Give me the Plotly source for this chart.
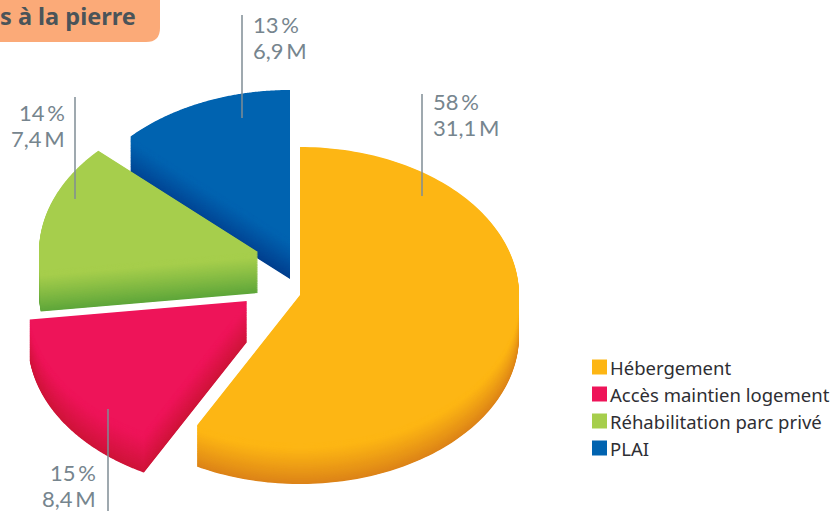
import numpy as np
import plotly.graph_objects as go

categories = ["Hébergement", "Accès maintien logement", "Réhabilitation parc privé", "PLAI"]
shares = [57.8, 15.2, 14, 13]
percent = [58, 15, 14, 13]
millions = ["31,1", "8,4", "7,4", "6,9"]
top_colors = ["#FDB614", "#EE1459", "#A6CE4C", "#0063B0"]
dark_colors = ["#DC8318", "#CE1438", "#5EA63A", "#003F8E"]

# layout constants (pixel-like axes)
W, H = 835, 511
RX, RY, DEPTH = 219, 148, 41
apex = [(300, 295), (247, 301), (258, 252), (290, 238)]
draw_order = [3, 2, 1, 0]
BANDS = 64


def hex2rgb(c):
    return np.array([int(c[i:i + 2], 16) for i in (1, 3, 5)], float)


def mix(a, b, t):
    v = hex2rgb(a) * (1 - t) + hex2rgb(b) * t
    return "rgb(%d,%d,%d)" % tuple(v.round())


def wedge(cx, cy, a0, a1):
    th = np.radians(np.linspace(a0, a1, 160))
    return (np.r_[cx, cx + RX * np.sin(th), cx], np.r_[cy, cy - RY * np.cos(th), cy])


edges = np.r_[0, np.cumsum(shares)] / sum(shares) * 360
fig = go.Figure()

for i in draw_order:
    cx, cy = apex[i]
    for k in range(BANDS, 0, -1):
        t = k / BANDS
        shade = max(0.0, (t - 0.12) / 0.88) ** 1.1
        x, y = wedge(cx, cy + DEPTH * t, edges[i], edges[i + 1])
        fig.add_trace(go.Scatter(x=x, y=y, mode="none", fill="toself",
                                 fillcolor=mix(top_colors[i], dark_colors[i], shade),
                                 hoverinfo="skip", showlegend=False))
    x, y = wedge(cx, cy, edges[i], edges[i + 1])
    fig.add_trace(go.Scatter(x=x, y=y, mode="none", fill="toself",
                             fillcolor=top_colors[i], name=categories[i],
                             hoverinfo="name", showlegend=False))

# legend
legend_x, legend_y0, legend_dy = 599.5, 367, 27
fig.add_trace(go.Scatter(
    x=[legend_x] * 4, y=[legend_y0 + legend_dy * j for j in range(4)],
    mode="markers", marker=dict(symbol="square", size=15, color=top_colors, line_width=0),
    hoverinfo="skip", showlegend=False))
for j, c in enumerate(categories):
    fig.add_annotation(x=610, y=legend_y0 + legend_dy * j, text=c, showarrow=False,
                       xanchor="left", yanchor="middle", xshift=-2,
                       font=dict(family="Noto Sans", size=18.5, color="#2E2E33"))

# leader lines and value labels: (line x, y0, y1, label x, anchor, y first row)
leaders = [(422, 94, 196, 433, "left", 101), (108, 409, 511, 96, "right", 472),
           (75, 97, 199, 65, "right", 112), (242, 15, 118, 253, "left", 24)]
for i, (lx, y0, y1, tx, anchor, ty) in enumerate(leaders):
    fig.add_shape(type="line", x0=lx, x1=lx, y0=y0, y1=y1, layer="above",
                  line=dict(color="#7F8C94", width=1.5))
    xs = -2 if anchor == "left" else 2
    fig.add_annotation(x=tx, y=ty, text=f"{percent[i]}\u2009%", showarrow=False, xanchor=anchor, xshift=xs,
                       yanchor="middle", font=dict(family="Lato", size=22, color="#76858E"))
    fig.add_annotation(x=tx, y=ty + 26, text=f"{millions[i]}\u2009M", showarrow=False, xanchor=anchor, xshift=xs,
                       yanchor="middle", font=dict(family="Lato", size=22, color="#76858E"))

# heading tab, cropped by the left/top of the picture
fig.add_shape(type="path", layer="below", line_width=0, fillcolor="#FBAA78",
              path="M -5 -5 L 160 -5 L 160 28 Q 160 42 146 42 L -5 42 Z")
fig.add_annotation(x=136, y=16, text="<b>s à la pierre</b>", showarrow=False, xanchor="right", xshift=2,
                   yanchor="middle", font=dict(family="Noto Sans", size=23.5, color="#4A5459"))

fig.update_layout(
    width=W, height=H, margin=dict(l=0, r=0, t=0, b=0),
    paper_bgcolor="white", plot_bgcolor="white", showlegend=False,
    xaxis=dict(range=[0, W], visible=False, fixedrange=True),
    yaxis=dict(range=[H, 0], visible=False, fixedrange=True),
)
fig.write_html("out.html", config={"displayModeBar": False},
               post_script="document.body.style.margin='0';document.documentElement.style.overflow='hidden';")
